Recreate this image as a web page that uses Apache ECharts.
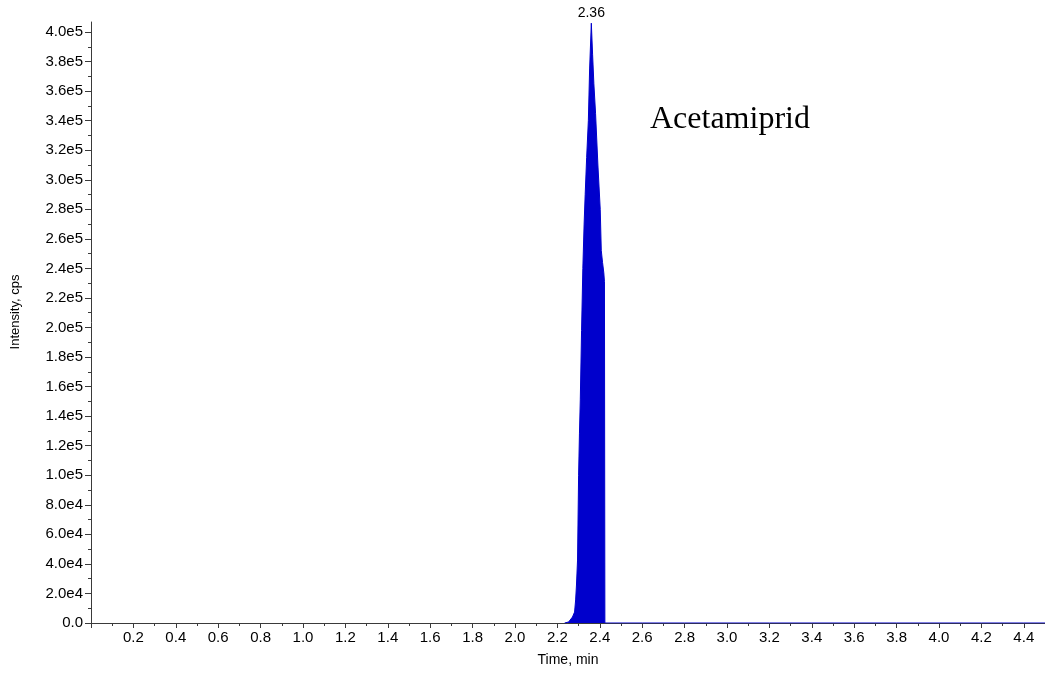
<!DOCTYPE html>
<html>
<head>
<meta charset="utf-8">
<title>Acetamiprid XIC</title>
<script src="https://cdn.jsdelivr.net/npm/echarts@6/dist/echarts.min.js"></script>
<style>
  html, body { margin: 0; padding: 0; background: #ffffff; }
  #chart { width: 1045px; height: 673px; }
</style>
</head>
<body>
<div id="chart"></div>
<script>
// Retention time (min) and intensity (cps) of the extracted ion chromatogram
const timeMin = [
  2.234, 2.253, 2.262, 2.271, 2.281, 2.286, 2.290, 2.295, 2.300, 2.304,
  2.308, 2.314, 2.320, 2.326, 2.331, 2.338, 2.346, 2.352, 2.360,
  2.366, 2.372, 2.380, 2.391, 2.402, 2.407, 2.413, 2.419, 2.422,
  2.424, 2.6, 2.8, 3.0, 3.2, 3.4, 3.6, 3.8, 4.0, 4.2, 4.4, 4.5
];
const intensityCps = [
  0, 700, 1400, 4000, 7400, 15600, 25700, 42600, 100000, 128000,
  151000, 198000, 240000, 270000, 290000, 315000, 340000, 375000, 406000,
  385000, 365000, 345000, 310000, 280000, 252000, 244000, 237000, 231000,
  0, 0, 0, 0, 0, 0, 0, 0, 0, 0, 0, 0
];

// Compound name and the apex time shown above the peak
const compoundName = 'Acetamiprid';
const apexTime = 2.36;

// Tick labels
const xTickLabels = ['', '0.2', '0.4', '0.6', '0.8', '1.0', '1.2', '1.4', '1.6', '1.8', '2.0',
  '2.2', '2.4', '2.6', '2.8', '3.0', '3.2', '3.4', '3.6', '3.8', '4.0', '4.2', '4.4'];
const yTickLabels = ['0.0', '2.0e4', '4.0e4', '6.0e4', '8.0e4', '1.0e5', '1.2e5', '1.4e5',
  '1.6e5', '1.8e5', '2.0e5', '2.2e5', '2.4e5', '2.6e5', '2.8e5', '3.0e5', '3.2e5', '3.4e5',
  '3.6e5', '3.8e5', '4.0e5'];

const X_STEP = 0.2;
const Y_STEP = 20000;
const Y_MAX = 406800;

// Major and minor tick positions on the intensity axis
const yMajor = yTickLabels.map(function (_, k) { return k * Y_STEP; });
const yMinor = yMajor.slice(0, -1).map(function (v) { return v + Y_STEP / 2; });

const labelFont = 'Liberation Sans, Arial, sans-serif';
const axisColor = '#3a3a3a';
const blue = '#0000cc';

const seriesData = timeMin.map(function (t, i) {
  const item = { value: [t, intensityCps[i]] };
  if (t === apexTime) {
    item.label = {
      show: true,
      position: 'top',
      distance: 3,
      color: '#000',
      fontFamily: labelFont,
      fontSize: 14,
      formatter: function (p) { return p.value[0].toFixed(2); }
    };
  }
  return item;
});

const chart = echarts.init(document.getElementById('chart'), null, { renderer: 'canvas' });
chart.setOption({
  animation: false,
  backgroundColor: '#ffffff',
  grid: { left: 91, right: 0, top: 22, bottom: 50, containLabel: false },
  xAxis: {
    type: 'value',
    min: 0,
    max: 4.5,
    interval: X_STEP,
    name: 'Time, min',
    nameLocation: 'middle',
    nameGap: 30,
    nameTextStyle: { color: '#000', fontFamily: labelFont, fontSize: 14 },
    axisLine: { onZero: false, lineStyle: { color: axisColor, width: 1 } },
    axisTick: { show: true, length: 5, lineStyle: { color: axisColor } },
    minorTick: { show: true, splitNumber: 2, length: 3, lineStyle: { color: axisColor } },
    splitLine: { show: false },
    axisLabel: {
      color: '#000',
      fontFamily: labelFont,
      fontSize: 15,
      margin: 7,
      showMaxLabel: false,
      formatter: function (v) {
        const k = Math.round(v / X_STEP);
        return Math.abs(k * X_STEP - v) < 1e-6 && xTickLabels[k] !== undefined ? xTickLabels[k] : '';
      }
    }
  },
  yAxis: [{
    type: 'value',
    min: 0,
    max: Y_MAX,
    interval: Y_STEP,
    axisLine: { show: true, lineStyle: { color: axisColor, width: 1 } },
    axisTick: { show: true, length: 6, customValues: yMajor, lineStyle: { color: axisColor } },
    minorTick: { show: false },
    splitLine: { show: false },
    axisLabel: {
      color: '#000',
      fontFamily: labelFont,
      fontSize: 15,
      margin: 8,
      customValues: yMajor,
      formatter: function (v) {
        const k = Math.round(v / Y_STEP);
        return yTickLabels[k] !== undefined ? yTickLabels[k] : '';
      }
    }
  }, {
    // short minor ticks halfway between the labelled ones
    type: 'value',
    position: 'left',
    min: 0,
    max: Y_MAX,
    interval: Y_STEP,
    axisLine: { show: false },
    axisTick: { show: true, length: 3, customValues: yMinor, lineStyle: { color: axisColor } },
    axisLabel: { show: false },
    splitLine: { show: false }
  }],
  graphic: [{
    type: 'text',
    left: 650,
    top: 104,
    style: {
      text: compoundName,
      fill: '#000',
      font: '32px "Liberation Serif", "Times New Roman", serif'
    }
  }, {
    type: 'text',
    x: 15,
    y: 312,
    rotation: Math.PI / 2,
    style: {
      text: 'Intensity, cps',
      fill: '#000',
      font: '13px "Liberation Sans", Arial, sans-serif',
      align: 'center',
      verticalAlign: 'middle'
    }
  }],
  series: [{
    type: 'line',
    data: seriesData,
    showSymbol: true,
    symbol: 'circle',
    symbolSize: 0,
    smooth: false,
    clip: true,
    lineStyle: { color: blue, width: 1 },
    areaStyle: { color: blue, opacity: 1 },
    itemStyle: { color: blue },
    label: { show: false },
    z: 3
  }]
});
</script>
</body>
</html>
